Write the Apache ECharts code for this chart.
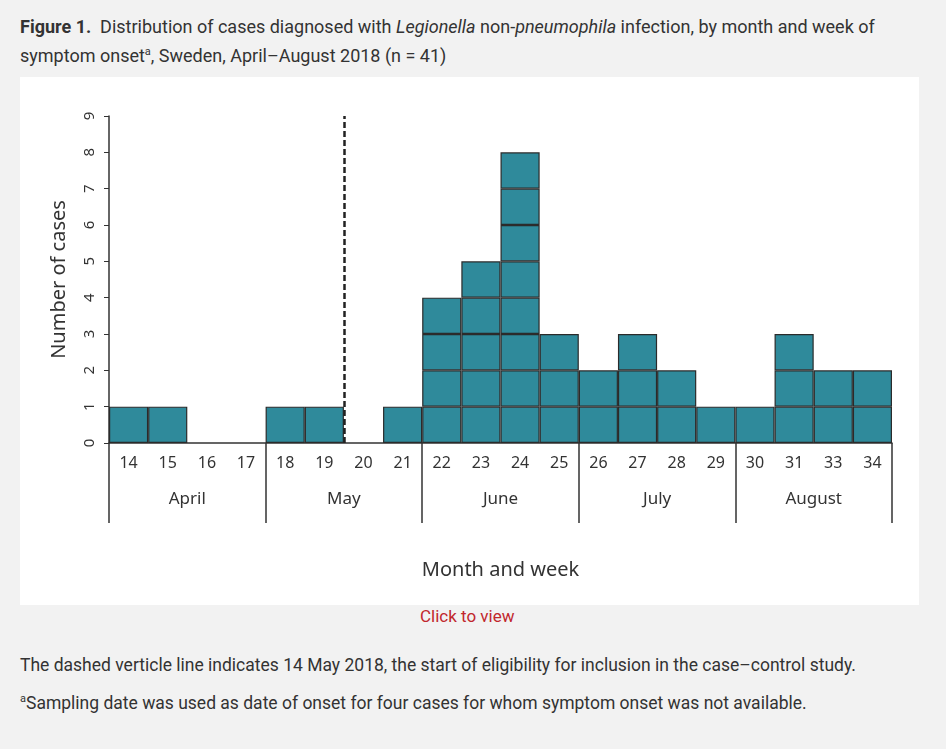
<!DOCTYPE html>
<html>
<head>
<meta charset="UTF-8">
<title>Legionella non-pneumophila</title>
<script src="https://cdn.jsdelivr.net/npm/echarts@6/dist/echarts.min.js"></script>
<style>
body{margin:0;background:#f2f2f2;font-family:Roboto,"Noto Sans",sans-serif;color:#333;width:946px;height:749px;position:relative;overflow:hidden}
.t{position:absolute;left:20px;top:14px;font-size:18px;line-height:25px;width:900px}
#main{position:absolute;left:20px;top:77px;width:899px;height:528px;background:#fff}
.click{position:absolute;left:420px;top:606px;color:#c1272d;font-size:17px}
.n{position:absolute;left:20px;font-size:17.5px}
</style>
</head>
<body>
<div class="t"><b>Figure 1.</b>&nbsp; Distribution of cases diagnosed with <i>Legionella</i> non-<i>pneumophila</i> infection, by month and week of symptom onset<sup style="font-size:11px">a</sup>, Sweden, April–August 2018 (n = 41)</div>
<div id="main"></div>
<div class="click">Click to view</div>
<div class="n" style="top:655px">The dashed verticle line indicates 14 May 2018, the start of eligibility for inclusion in the case–control study.</div>
<div class="n" style="top:692px"><sup style="font-size:11px">a</sup>Sampling date was used as date of onset for four cases for whom symptom onset was not available.</div>
<script>
var weeks = ['14','15','16','17','18','19','20','21','22','23','24','25','26','27','28','29','30','31','33','34'];
var cases = [1,1,0,0,1,1,0,1,4,5,8,3,2,3,2,1,1,3,2,2];
var months = ['April','May','June','July','August'];
var eligibilityPos = 6; // boundary between week 19 and 20

var chart = echarts.init(document.getElementById('main'));
var series = [];
for (var k = 1; k <= 9; k++) {
  series.push({
    type: 'bar', stack: 'c', barCategoryGap: 0, xAxisIndex: 0,
    data: cases.map(function (v) { return v >= k ? 1 : '-'; }),
    itemStyle: { color: '#2f8a9b', borderColor: '#2b2b2b', borderWidth: 1.2 }
  });
}
series.push({
  type: 'line', xAxisIndex: 2, data: [], silent: true,
  markLine: {
    symbol: 'none', label: { show: false },
    lineStyle: { type: [6, 3], color: '#222', width: 2.5 },
    data: [{ xAxis: eligibilityPos }]
  }
});
chart.setOption({
  animation: false,
  grid: { left: 89, top: 39, width: 783, height: 327 },
  xAxis: [
    { type: 'category', data: weeks, position: 'bottom',
      axisLine: { lineStyle: { color: '#333', width: 1.5 } }, axisTick: { show: false },
      axisLabel: { color: '#333', fontSize: 16, fontFamily: 'Noto Sans', margin: 12 } },
    { type: 'category', data: months, position: 'bottom',
      axisLine: { show: false },
      axisTick: { show: true, length: 80, lineStyle: { color: '#333', width: 1.5 } },
      axisLabel: { color: '#333', fontSize: 17, fontFamily: 'Noto Sans', margin: 48 },
      name: 'Month and week', nameLocation: 'middle', nameGap: 117,
      nameTextStyle: { color: '#333', fontSize: 20, fontFamily: 'Noto Sans' } },
    { type: 'value', min: 0, max: 20, show: false }
  ],
  yAxis: {
    type: 'value', min: 0, max: 9, interval: 1,
    name: 'Number of cases', nameLocation: 'middle', nameGap: 40, nameRotate: 90,
    nameTextStyle: { color: '#333', fontSize: 20, fontFamily: 'Noto Sans' },
    splitLine: { show: false },
    axisLine: { show: true, lineStyle: { color: '#333', width: 1.5 } },
    axisTick: { show: true, length: 5, lineStyle: { color: '#333' } },
    axisLabel: { color: '#333', fontSize: 15, rotate: 90, fontFamily: 'Noto Sans', margin: 12 }
  },
  series: series
});
</script>
</body>
</html>
